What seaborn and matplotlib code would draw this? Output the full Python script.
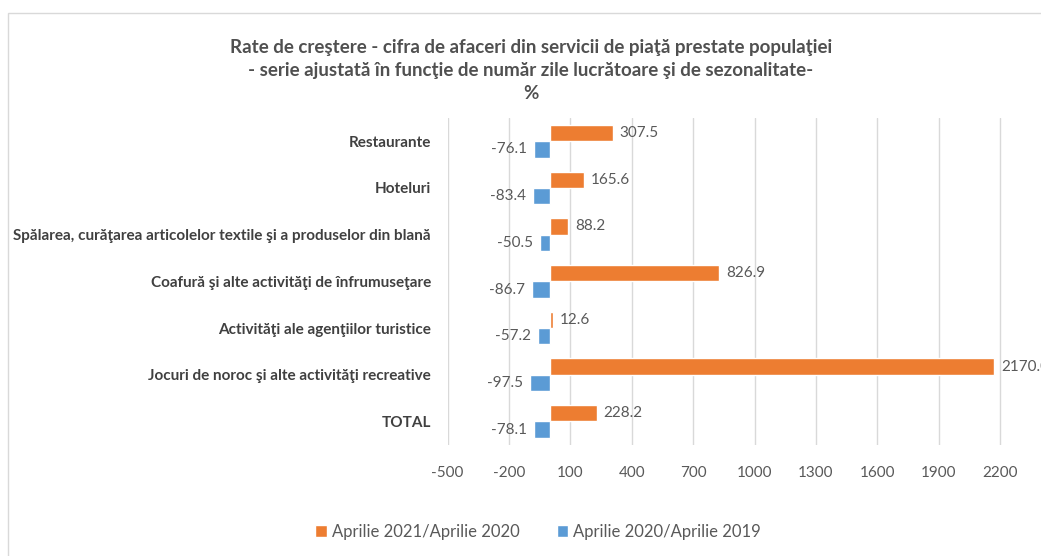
import pandas as pd
import seaborn as sns
import matplotlib.pyplot as plt
from matplotlib.patches import Rectangle

categories = [
    "Restaurante",
    "Hoteluri",
    "Spălarea, curăţarea articolelor textile şi a produselor din blană",
    "Coafură şi alte activităţi de înfrumuseţare",
    "Activităţi ale agenţiilor turistice",
    "Jocuri de noroc şi alte activităţi recreative",
    "TOTAL",
]
series_2021 = "Aprilie 2021/Aprilie 2020"
series_2020 = "Aprilie 2020/Aprilie 2019"
values_2021 = [307.5, 165.6, 88.2, 826.9, 12.6, 2170.0, 228.2]
values_2020 = [-76.1, -83.4, -50.5, -86.7, -57.2, -97.5, -78.1]
x_ticks = [-500, -200, 100, 400, 700, 1000, 1300, 1600, 1900, 2200]

title = ("Rate de creştere - cifra de afaceri din servicii de piaţă prestate populaţiei\n"
         "- serie ajustată în funcţie de număr zile lucrătoare şi de sezonalitate-\n%")

sns.set_style("white")
plt.rcParams["font.family"] = ["Lato", "DejaVu Sans"]
plt.rcParams["axes.unicode_minus"] = False

df = pd.concat([
    pd.DataFrame({"Categorie": categories, "Serie": series_2021, "Valoare": values_2021}),
    pd.DataFrame({"Categorie": categories, "Serie": series_2020, "Valoare": values_2020}),
])

fig = plt.figure(figsize=(10.41, 5.56), dpi=100)
ax = fig.add_axes([0.430, 0.20, 0.570, 0.588])

text_color = "#595959"
sns.barplot(data=df, y="Categorie", x="Valoare", hue="Serie", orient="h",
            order=categories, hue_order=[series_2021, series_2020],
            palette=["#ED7D31", "#5B9BD5"], saturation=1, width=0.7, ax=ax, legend=True)

for cont in ax.containers:
    ax.bar_label(cont, fmt="%.1f", padding=5, fontsize=11, color=text_color, clip_on=False)

ax.set_xlim(-500, 2400)
ax.set_xticks(x_ticks)
ax.set_xlabel("")
ax.set_ylabel("")
ax.grid(axis="x", color="#d9d9d9", linewidth=1)
ax.set_axisbelow(True)
for s in ax.spines.values():
    s.set_visible(False)
ax.tick_params(axis="x", length=0, pad=15, labelsize=11, labelcolor=text_color)
ax.tick_params(axis="y", length=0, pad=12, labelsize=11, labelcolor="#404040")
for lbl in ax.get_yticklabels():
    lbl.set_fontweight("bold")

handles, labels = ax.get_legend_handles_labels()
ax.get_legend().remove()
fig.legend(handles, labels, loc="center", bbox_to_anchor=(0.517, 0.043), ncol=2,
           frameon=False, fontsize=12, labelcolor=text_color, handlelength=0.7,
           handleheight=0.7, handletextpad=0.3, columnspacing=2.2)

fig.text(0.51, 0.873, title, ha="center", va="center", fontsize=13.5,
         fontweight="bold", color="#505050", linespacing=1.45)

fig.patches.append(Rectangle((0.008, -0.05), 1.05, 1.027, transform=fig.transFigure,
                             fill=False, edgecolor="#d9d9d9", linewidth=1))

fig.savefig("out.png", dpi=100)
